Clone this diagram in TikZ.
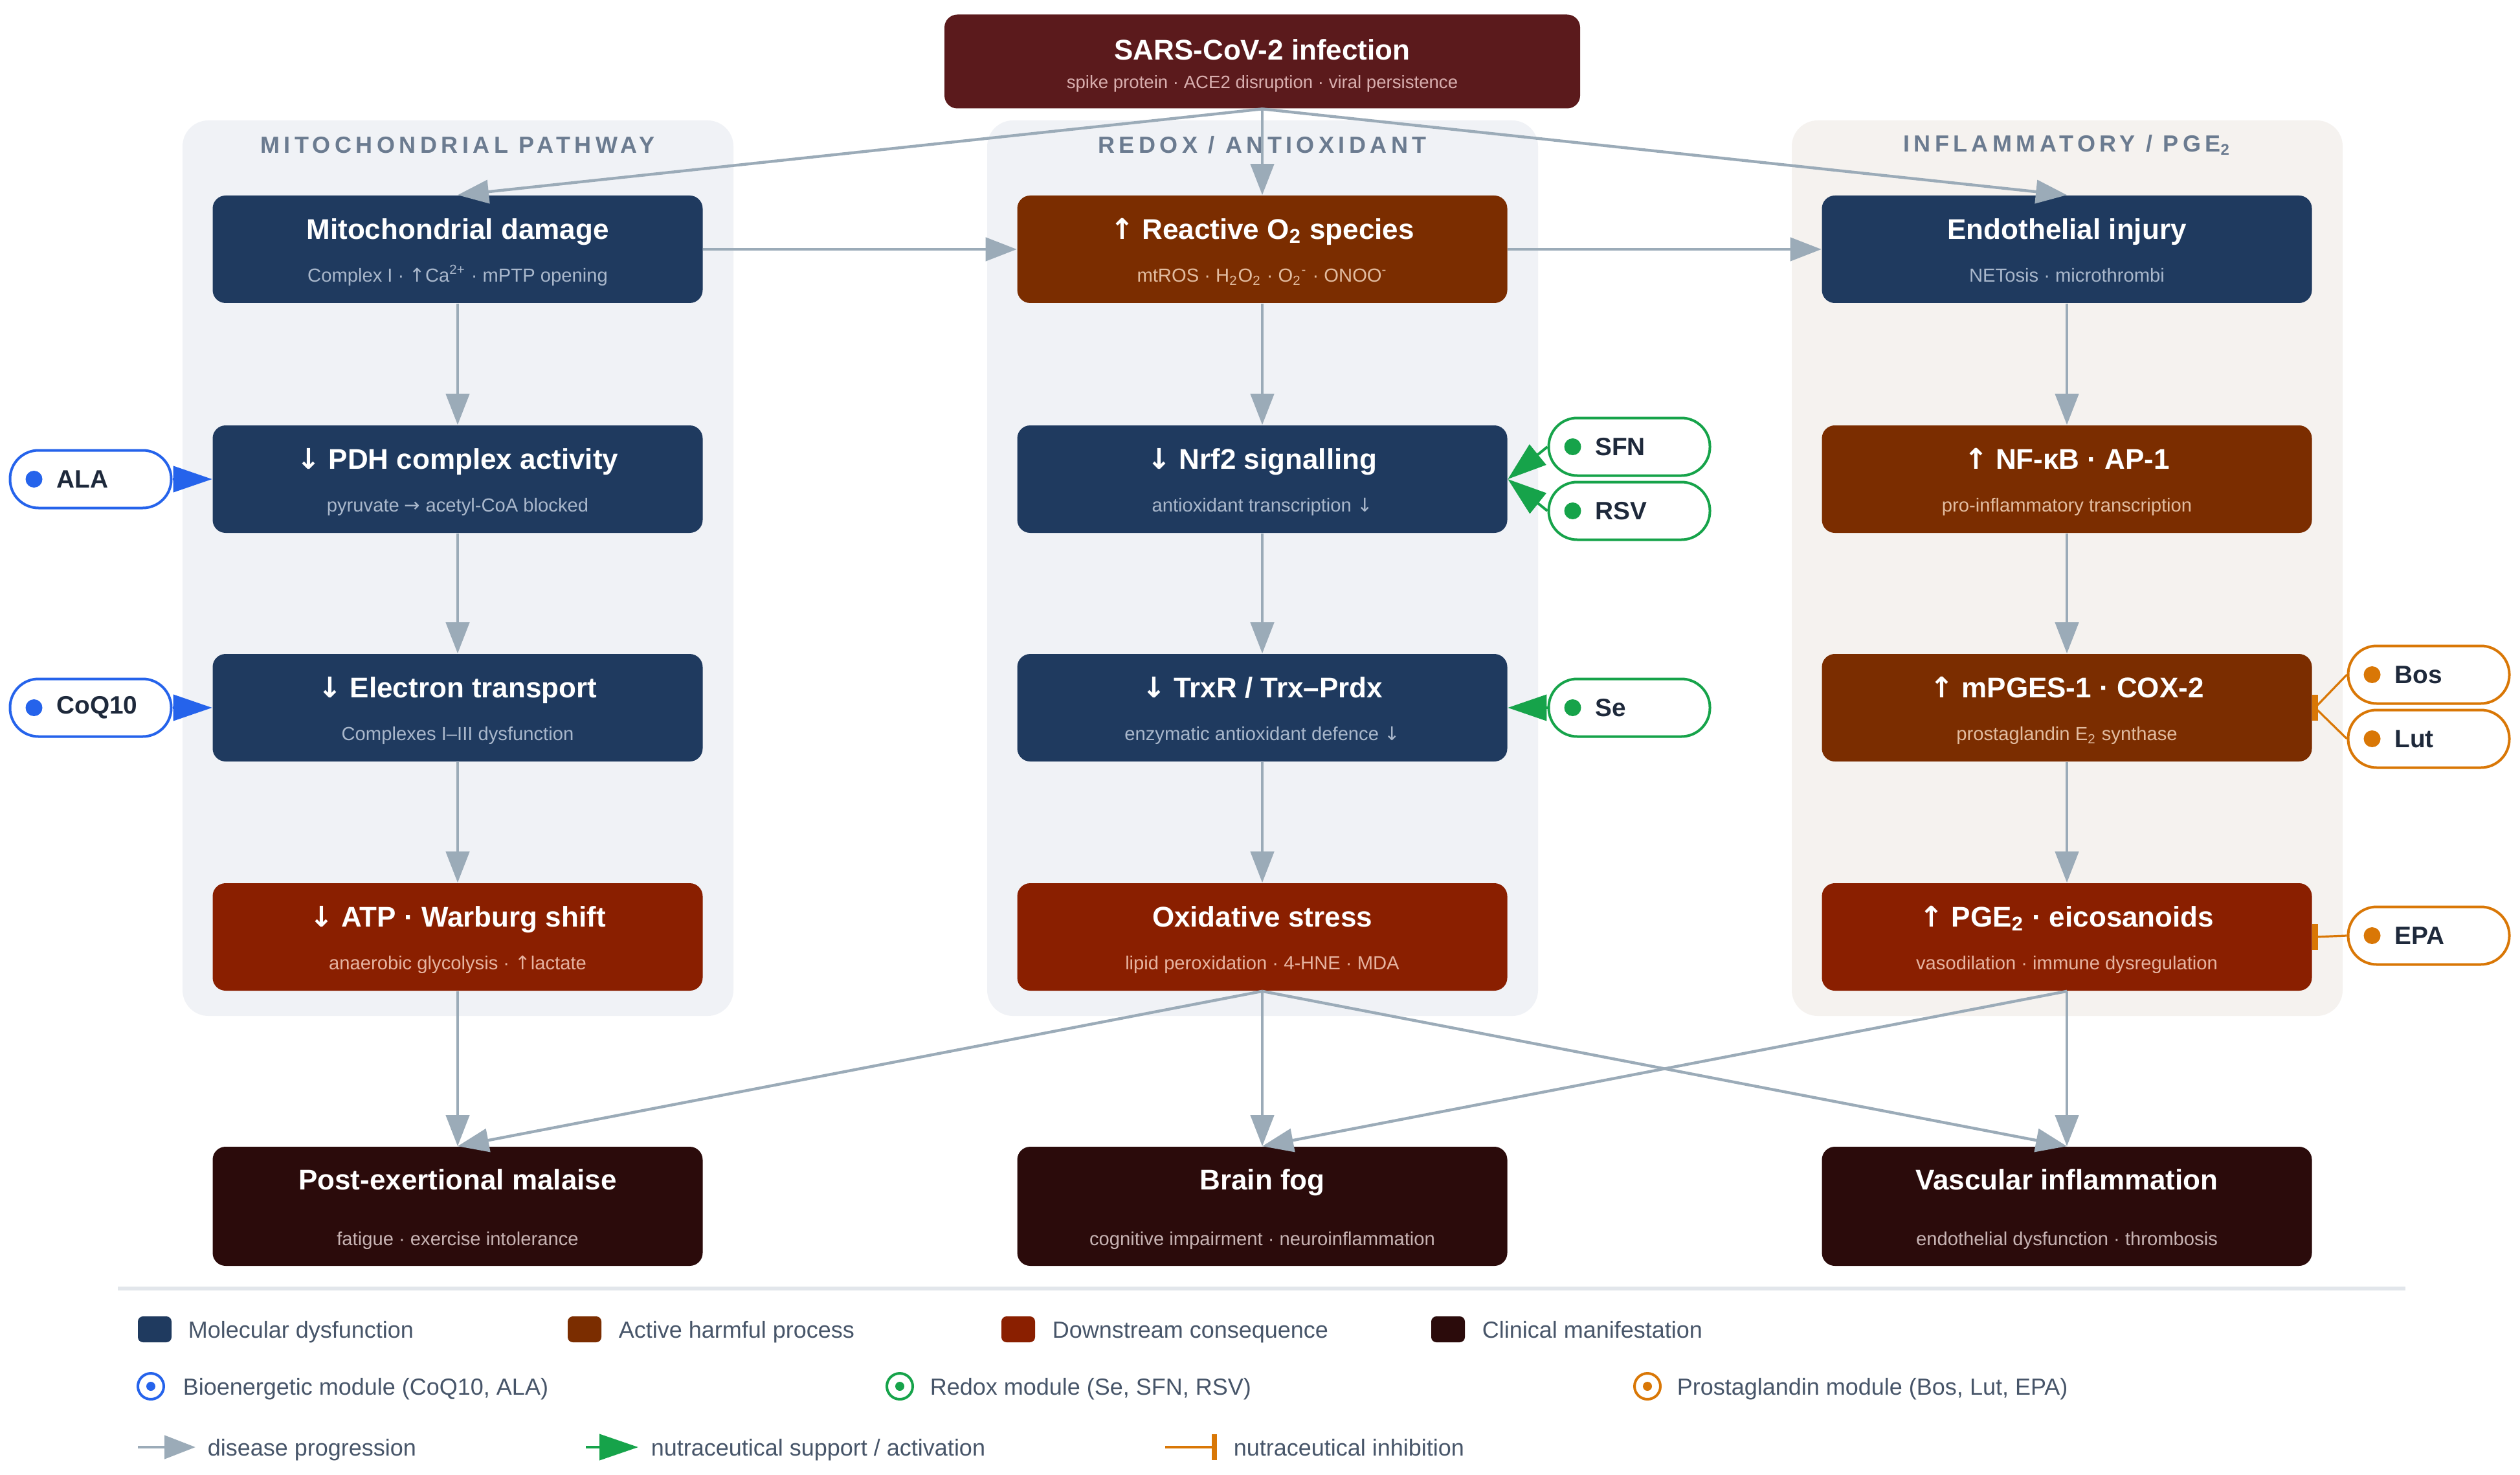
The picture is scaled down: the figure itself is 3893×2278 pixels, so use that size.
\documentclass[tikz,border=0pt]{standalone}
\usepackage{fontspec}
\setmainfont{Liberation Sans}
\newfontfamily\symf{DejaVu Sans}
\newfontfamily\hdrf[LetterSpace=18]{Liberation Sans}
\usetikzlibrary{arrows.meta}
\definecolor{navy}{HTML}{1F3A5F}
\definecolor{rust}{HTML}{7B2D00}
\definecolor{brick}{HTML}{8A1F00}
\definecolor{clin}{HTML}{2B0B0B}
\definecolor{sarsc}{HTML}{5B1A1C}
\definecolor{panelA}{HTML}{F0F2F6}
\definecolor{panelB}{HTML}{F5F2EF}
\definecolor{hdrc}{HTML}{6B7B90}
\definecolor{agrey}{HTML}{9BABB8}
\definecolor{nsub}{HTML}{A9B7CB}
\definecolor{rsub}{HTML}{E2BCA0}
\definecolor{bsub}{HTML}{E6B3A0}
\definecolor{csub}{HTML}{C7B3B3}
\definecolor{ssub}{HTML}{D8AEAE}
\definecolor{bluec}{HTML}{2563EB}
\definecolor{greenc}{HTML}{16A34A}
\definecolor{orangec}{HTML}{D97706}
\definecolor{pilltxt}{HTML}{1E293B}
\definecolor{legtxt}{HTML}{475569}
\definecolor{sepc}{HTML}{E2E6EB}
\newcommand{\uparr}{{\symf ↑}}
\newcommand{\dnarr}{{\symf ↓}}
\newcommand{\rarr}{{\symf →}}
\newcommand{\sbs}[1]{\textsubscript{#1}}
\newcommand{\sps}[1]{\textsuperscript{#1}}
% process box: name, x, y, fill, subcolour, title, subtitle
\newcommand{\pbox}[7]{%
  \node[box, fill=#4] (#1) at (#2,#3) {};
  \node[ttl] (#1-t) at ([yshift=3.9pt]#1.center) {#6};
  \node[subt, text=#5] (#1-s) at ([yshift=-12.6pt]#1.center) {#7};
}
\newcommand{\clinbox}[5]{%
  \node[box, minimum height=46pt, fill=clin] (#1) at (#2,#3) {};
  \node[ttl] (#1-t) at ([yshift=6.3pt]#1.center) {#4};
  \node[subt, text=csub] (#1-s) at ([yshift=-15pt]#1.center) {#5};
}
\newcommand{\pill}[5]{%
  \node[pillbox, draw=#4] (#1) at (#2,#3) {};
  \node[circle, fill=#4, minimum size=6.5pt, inner sep=0pt] (#1-d) at ([xshift=9.75pt]#1.west) {};
  \node[pilltext] (#1-t) at ([xshift=18.25pt]#1.west) {#5};
}
\begin{document}
\begin{tikzpicture}[x=0.25pt,y=-0.25pt,
  box/.style={rounded corners=5pt, minimum width=189.25pt, minimum height=41.5pt, inner sep=0pt},
  ttl/.style={text=white, font=\fontsize{11}{13}\selectfont\bfseries, anchor=base, inner sep=0pt},
  subt/.style={font=\fontsize{7.3}{9}\selectfont, anchor=base, inner sep=0pt},
  prog/.style={draw=agrey, line width=1.1pt, -{Triangle[length=12pt,width=9pt]}},
  supp/.style={line width=1pt, -{Triangle[length=15pt,width=10pt]}},
  inhline/.style={draw=orangec, line width=0.8pt},
  inhbar/.style={draw=orangec, line width=2.2pt},
  pillbox/.style={line width=1pt, fill=white, rounded corners=11pt, minimum width=62.25pt, minimum height=22.25pt, inner sep=0pt},
  pilltext/.style={anchor=west, inner sep=0pt, text=pilltxt, font=\fontsize{9.7}{11}\selectfont\bfseries},
  hdr/.style={text=hdrc, font={\hdrf\fontsize{9}{11}\selectfont\bfseries}, inner sep=0pt},
  legt/.style={anchor=base west, inner sep=0pt, text=legtxt, font=\fontsize{9}{11}\selectfont},
  legsq/.style={rounded corners=2pt, minimum width=13pt, minimum height=10pt, inner sep=0pt},
  ring/.style={circle, draw=#1, line width=1pt, minimum size=10pt, inner sep=0pt},
  rdot/.style={circle, fill=#1, minimum size=3.5pt, inner sep=0pt}
]
\useasboundingbox (0,0) rectangle (3893,2278);
\fill[white] (0,0) rectangle (3893,2278);

% panels
\fill[panelA, rounded corners=10pt] (282,186) rectangle (1133,1569);
\fill[panelA, rounded corners=10pt] (1525,186) rectangle (2376,1569);
\fill[panelB, rounded corners=10pt] (2768,186) rectangle (3619,1569);
\node[hdr] (hmito) at (707,224) {MITOCHONDRIAL PATHWAY};
\node[hdr] (hredox) at (1950,224) {REDOX / ANTIOXIDANT};
\node[hdr] (hinfl) at (3193,224) {INFLAMMATORY / PGE\sbs{2}};

% top node
\node[box, minimum width=245.5pt, minimum height=36.25pt, fill=sarsc] (sars) at (1950,95) {};
\node[ttl] (sars-t) at ([yshift=0.6pt]sars.center) {SARS-CoV-2 infection};
\node[subt, text=ssub, font=\fontsize{6.9}{8}\selectfont] (sars-s) at ([yshift=-10.3pt]sars.center) {spike protein · ACE2 disruption · viral persistence};

% column boxes
\pbox{mito}{707}{385}{navy}{nsub}{Mitochondrial damage}{Complex I · \uparr Ca\sps{2+} · mPTP opening}
\pbox{pdh}{707}{740}{navy}{nsub}{\dnarr\ PDH complex activity}{pyruvate \rarr\ acetyl-CoA blocked}
\pbox{etc}{707}{1093}{navy}{nsub}{\dnarr\ Electron transport}{Complexes I–III dysfunction}
\pbox{atp}{707}{1447}{brick}{bsub}{\dnarr\ ATP · Warburg shift}{anaerobic glycolysis · \uparr lactate}

\pbox{ros}{1950}{385}{rust}{rsub}{\uparr\ Reactive O\sbs{2} species}{mtROS · H\sbs{2}O\sbs{2} · O\sbs{2}\sps{-} · ONOO\sps{-}}
\pbox{nrf}{1950}{740}{navy}{nsub}{\dnarr\ Nrf2 signalling}{antioxidant transcription \dnarr}
\pbox{trx}{1950}{1093}{navy}{nsub}{\dnarr\ TrxR / Trx–Prdx}{enzymatic antioxidant defence \dnarr}
\pbox{ox}{1950}{1447}{brick}{bsub}{Oxidative stress}{lipid peroxidation · 4-HNE · MDA}

\pbox{endo}{3193}{385}{navy}{nsub}{Endothelial injury}{NETosis · microthrombi}
\pbox{nfkb}{3193}{740}{rust}{rsub}{\uparr\ NF-κB · AP-1}{pro-inflammatory transcription}
\pbox{mpges}{3193}{1093}{rust}{rsub}{\uparr\ mPGES-1 · COX-2}{prostaglandin E\sbs{2} synthase}
\pbox{pge}{3193}{1447}{brick}{bsub}{\uparr\ PGE\sbs{2} · eicosanoids}{vasodilation · immune dysregulation}

\clinbox{pem}{707}{1863}{Post-exertional malaise}{fatigue · exercise intolerance}
\clinbox{fog}{1950}{1863}{Brain fog}{cognitive impairment · neuroinflammation}
\clinbox{vasc}{3193}{1863}{Vascular inflammation}{endothelial dysfunction · thrombosis}

% progression arrows
\draw[prog] (sars.south) -- (mito.north);
\draw[prog] (sars.south) -- (ros.north);
\draw[prog] (sars.south) -- (endo.north);
\draw[prog] (mito.east) -- (ros.west);
\draw[prog] (ros.east) -- (endo.west);
\draw[prog] (mito.south) -- (pdh.north);
\draw[prog] (pdh.south) -- (etc.north);
\draw[prog] (etc.south) -- (atp.north);
\draw[prog] (ros.south) -- (nrf.north);
\draw[prog] (nrf.south) -- (trx.north);
\draw[prog] (trx.south) -- (ox.north);
\draw[prog] (endo.south) -- (nfkb.north);
\draw[prog] (nfkb.south) -- (mpges.north);
\draw[prog] (mpges.south) -- (pge.north);
\draw[prog] (atp.south) -- (pem.north);
\draw[prog] (ox.south) -- (pem.north);
\draw[prog] (ox.south) -- (fog.north);
\draw[prog] (ox.south) -- (vasc.north);
\draw[prog] (pge.south) -- (fog.north);
\draw[prog] (pge.south) -- (vasc.north);

% nutraceuticals
\pill{ala}{140}{740}{bluec}{ALA}
\pill{coq}{140}{1093}{bluec}{CoQ10}
\pill{sfn}{2517}{690}{greenc}{SFN}
\pill{rsv}{2517}{789}{greenc}{RSV}
\pill{se}{2517}{1093}{greenc}{Se}
\pill{bos}{3752}{1042}{orangec}{Bos}
\pill{lut}{3752}{1141}{orangec}{Lut}
\pill{epa}{3752}{1445}{orangec}{EPA}

\draw[supp, draw=bluec, fill=bluec] (ala.east) -- (pdh.west);
\draw[supp, draw=bluec, fill=bluec] (coq.east) -- (etc.west);
\draw[supp, draw=greenc, fill=greenc] (sfn.west) -- (nrf.east);
\draw[supp, draw=greenc, fill=greenc] (rsv.west) -- (nrf.east);
\draw[supp, draw=greenc, fill=greenc] (se.west) -- (trx.east);
\draw[inhline] (bos.west) -- ([xshift=1pt]mpges.east);
\draw[inhline] (lut.west) -- ([xshift=1pt]mpges.east);
\draw[inhbar] ([xshift=1pt,yshift=5pt]mpges.east) -- ([xshift=1pt,yshift=-5pt]mpges.east);
\draw[inhline] (epa.west) -- ([xshift=1pt]pge.east);
\draw[inhbar] ([xshift=1pt,yshift=5pt]pge.east) -- ([xshift=1pt,yshift=-5pt]pge.east);

% legend
\draw[sepc, line width=1.5pt] (182,1990) -- (3716,1990);
\node[legsq, fill=navy] (lg1) at (239,2053) {};
\node[legt] (lg1t) at (290,2066) {Molecular dysfunction};
\node[legsq, fill=rust] (lg2) at (903,2053) {};
\node[legt] (lg2t) at (955,2066) {Active harmful process};
\node[legsq, fill=brick] (lg3) at (1573,2053) {};
\node[legt] (lg3t) at (1625,2066) {Downstream consequence};
\node[legsq, fill=clin] (lg4) at (2237,2053) {};
\node[legt] (lg4t) at (2289,2066) {Clinical manifestation};

\node[ring=bluec] (lr1) at (233,2141) {};
\node[rdot=bluec] (lr1d) at (lr1.center) {};
\node[legt] (lr1t) at (282,2154) {Bioenergetic module (CoQ10, ALA)};
\node[ring=greenc] (lr2) at (1390,2141) {};
\node[rdot=greenc] (lr2d) at (lr2.center) {};
\node[legt] (lr2t) at (1436,2154) {Redox module (Se, SFN, RSV)};
\node[ring=orangec] (lr3) at (2545,2141) {};
\node[rdot=orangec] (lr3d) at (lr3.center) {};
\node[legt] (lr3t) at (2590,2154) {Prostaglandin module (Bos, Lut, EPA)};

\coordinate (la1) at (213,2235);
\coordinate (la2) at (302,2235);
\draw[prog] (la1) -- (la2);
\node[legt] (la-t) at (320,2248) {disease progression};
\coordinate (lb1) at (905,2235);
\coordinate (lb2) at (986,2235);
\draw[supp, draw=greenc, fill=greenc] (lb1) -- (lb2);
\node[legt] (lb-t) at (1005,2248) {nutraceutical support / activation};
\coordinate (lc1) at (1800,2235);
\coordinate (lc2) at (1876,2235);
\draw[inhline] (lc1) -- (lc2);
\draw[inhbar] ([yshift=5pt]lc2) -- ([yshift=-5pt]lc2);
\node[legt] (lc-t) at (1905,2248) {nutraceutical inhibition};
\end{tikzpicture}
\end{document}
